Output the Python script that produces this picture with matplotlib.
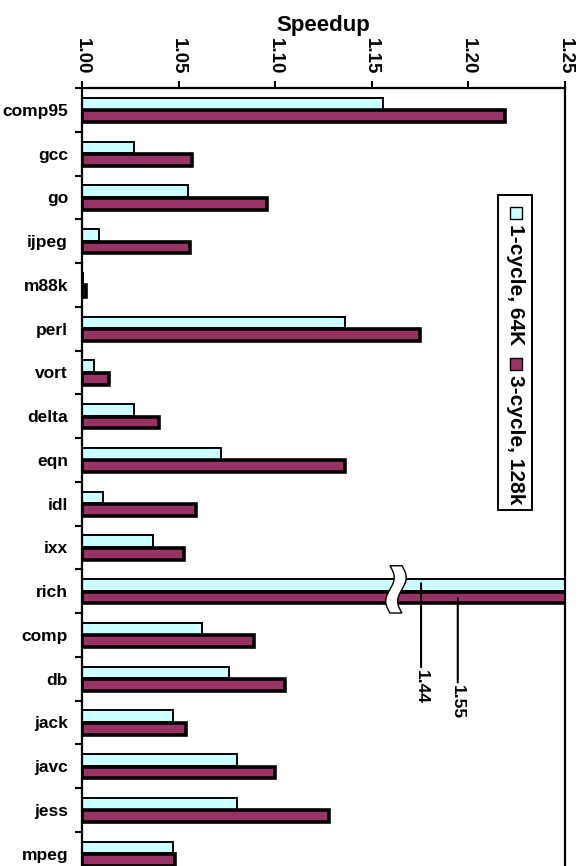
import numpy as np
import matplotlib
matplotlib.use("Agg")
import matplotlib.pyplot as plt
from matplotlib.patches import Polygon, Rectangle

plt.rcParams['font.family'] = ['Liberation Sans', 'DejaVu Sans']
plt.rcParams['font.weight'] = 'bold'

# Benchmarks and speedups for the two cache configurations
benchmarks = ['comp95', 'gcc', 'go', 'ijpeg', 'm88k', 'perl', 'vort', 'delta',
              'eqn', 'idl', 'ixx', 'rich', 'comp', 'db', 'jack', 'javc', 'jess', 'mpeg']
one_cycle_64k = [1.156, 1.027, 1.055, 1.009, 1.0007, 1.136, 1.006, 1.027,
                 1.072, 1.011, 1.037, 1.44, 1.062, 1.076, 1.047, 1.080, 1.080, 1.047]
three_cycle_128k = [1.219, 1.057, 1.096, 1.056, 1.002, 1.175, 1.014, 1.040,
                    1.136, 1.059, 1.053, 1.55, 1.089, 1.105, 1.054, 1.100, 1.128, 1.048]
speedup_ticks = [1.00, 1.05, 1.10, 1.15, 1.20, 1.25]

W, H = 584, 866
fig = plt.figure(figsize=(W / 100, H / 100), dpi=100)

def fx(px):
    return px / W

def fy(py):
    return 1 - py / H

# axes: plot area runs off the bottom edge of the page
ax = fig.add_axes([fx(82), fy(875.5), fx(565) - fx(82), fy(88) - fy(875.5)])

y = np.arange(len(benchmarks))
c1 = np.array(one_cycle_64k)
c3 = np.array(three_cycle_128k)
ax.barh(y - 0.14, c1 - 1, left=1, height=0.27, color='#CCFFFF',
        edgecolor='black', linewidth=1.4, zorder=2)
ax.barh(y + 0.145, c3 - 1, left=1, height=0.27, color='#993366',
        edgecolor='black', linewidth=2.6, zorder=2)

ax.set_xlim(1.0, 1.25)
ax.set_ylim(len(benchmarks) - 0.5, -0.5)

# speedup axis across the top, labels turned sideways
ax.xaxis.tick_top()
ax.xaxis.set_label_position('top')
ax.set_xticks(speedup_ticks)
ax.set_xticklabels(['%.2f' % t for t in speedup_ticks], rotation=-90,
                   fontsize=13.5, fontweight='bold')
ax.tick_params(axis='x', direction='out', length=5, width=1.5, pad=5)
ax.set_xlabel('Speedup', fontsize=16, fontweight='bold', labelpad=5)

# benchmark names centred, tick marks between groups
ax.set_yticks(y)
ax.set_yticklabels(benchmarks, fontsize=12.5, fontweight='bold')
ax.set_yticks(np.arange(-0.5, len(benchmarks), 1.0), minor=True)
ax.tick_params(axis='y', which='major', length=0, pad=10)
ax.tick_params(axis='y', which='minor', direction='out', length=5, width=1.5)

for s in ax.spines.values():
    s.set_linewidth(1.6)

# broken-bar marker on "rich"
ri = benchmarks.index('rich')
xb, wb, amp = 1.1625, 0.0062, 0.0022
t = np.linspace(0, 1, 40)
yy = ri - 0.58 + t * 1.08
left_x = xb - wb / 2 + amp * np.sin(2 * np.pi * t)
right_x = xb + wb / 2 + amp * np.sin(2 * np.pi * t)
pts = np.concatenate([np.column_stack([left_x, yy]),
                      np.column_stack([right_x[::-1], yy[::-1]])])
ax.add_patch(Polygon(pts, closed=True, facecolor='white', edgecolor='black',
                     linewidth=1.0, zorder=4))

# callouts for the clipped values
ax.annotate('%.2f' % c1[ri], xy=(1.1755, ri - 0.18), xytext=(1.1755, ri + 1.8),
            rotation=-90, ha='center', va='top', fontsize=12.5, fontweight='bold',
            arrowprops=dict(arrowstyle='-', color='black', lw=1.5,
                            shrinkA=0, shrinkB=0), zorder=5)
ax.annotate('%.2f' % c3[ri], xy=(1.1945, ri + 0.16), xytext=(1.1945, ri + 2.15),
            rotation=-90, ha='center', va='top', fontsize=12.5, fontweight='bold',
            arrowprops=dict(arrowstyle='-', color='black', lw=1.5,
                            shrinkA=0, shrinkB=0), zorder=5)

# sideways legend box
fig.patches.append(Rectangle((fx(498), fy(510)), fx(532) - fx(498), fy(195) - fy(510),
                             transform=fig.transFigure, facecolor='white',
                             edgecolor='black', linewidth=1.4, zorder=5))
fig.patches.append(Rectangle((fx(510), fy(219)), fx(522) - fx(510), fy(207) - fy(219),
                             transform=fig.transFigure, facecolor='#CCFFFF',
                             edgecolor='black', linewidth=1.0, zorder=6))
fig.patches.append(Rectangle((fx(510), fy(370)), fx(522) - fx(510), fy(358) - fy(370),
                             transform=fig.transFigure, facecolor='#993366',
                             edgecolor='black', linewidth=1.0, zorder=6))
fig.text(fx(516), fy(224), '1-cycle, 64K', rotation=-90, ha='center', va='top',
         fontsize=15, fontweight='bold', zorder=7)
fig.text(fx(516), fy(375), '3-cycle, 128k', rotation=-90, ha='center', va='top',
         fontsize=15, fontweight='bold', zorder=7)

fig.savefig('out.png', dpi=100)
